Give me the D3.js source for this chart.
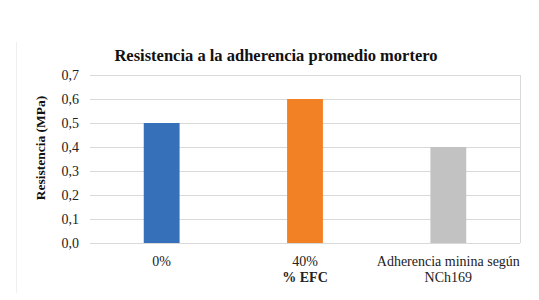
<!DOCTYPE html>
<html>
<head>
<meta charset="utf-8">
<script src="https://cdn.jsdelivr.net/npm/d3@7"></script>
<style>
  body { margin: 0; background: #fff; }
</style>
</head>
<body>
<svg id="chart" width="539" height="300"></svg>
<script>
// chart data
const categories = ["0%", "40%", "Adherencia minina según"];
const subLabels = ["", "% EFC", "NCh169"];
const values = [0.5, 0.6, 0.4];
const barColors = ["#3570b8", "#f28126", "#c2c2c2"];
const yTicks = [0, 0.1, 0.2, 0.3, 0.4, 0.5, 0.6, 0.7];
const title = "Resistencia a la adherencia promedio mortero";
const yLabel = "Resistencia (MPa)";

const serif = "'Liberation Serif', 'Times New Roman', Times, serif";

const svg = d3.select("#chart");

// plot area
const plot = { left: 90, right: 520, top: 75, bottom: 243 };

const x = d3.scaleBand()
    .domain(categories)
    .range([plot.left, plot.right])
    .padding(0);

const y = d3.scaleLinear()
    .domain([0, 0.7])
    .range([plot.bottom, plot.top]);

const barWidth = x.bandwidth() * 0.25;

// faint outer chart border (left edge only visible)
svg.append("line")
    .attr("x1", 16.5).attr("x2", 16.5)
    .attr("y1", 42).attr("y2", 293)
    .attr("stroke", "#efefef");

// gridlines
svg.append("g")
    .selectAll("line")
    .data(yTicks)
    .join("line")
    .attr("x1", plot.left)
    .attr("x2", plot.right)
    .attr("y1", d => Math.round(y(d)) + 0.5)
    .attr("y2", d => Math.round(y(d)) + 0.5)
    .attr("stroke", "#d9d9d9");

// right border of the plot area
svg.append("line")
    .attr("x1", plot.right + 0.5).attr("x2", plot.right + 0.5)
    .attr("y1", plot.top).attr("y2", plot.bottom)
    .attr("stroke", "#d9d9d9");

// y tick labels
svg.append("g")
    .selectAll("text")
    .data(yTicks)
    .join("text")
    .attr("x", 79)
    .attr("y", d => y(d) + 4.5)
    .attr("text-anchor", "end")
    .attr("font-family", serif)
    .attr("font-size", 14)
    .attr("fill", "#222")
    .text(d => d3.format(".1f")(d).replace(".", ","));

// bars
svg.append("g")
    .selectAll("rect")
    .data(values)
    .join("rect")
    .attr("x", (d, i) => x(categories[i]) + x.bandwidth() / 2 - barWidth / 2)
    .attr("y", d => y(d))
    .attr("width", barWidth)
    .attr("height", d => y(0) - y(d))
    .attr("fill", (d, i) => barColors[i]);

// x labels
const xl = svg.append("g");
xl.selectAll("text.main")
    .data(categories)
    .join("text")
    .attr("class", "main")
    .attr("x", d => x(d) + x.bandwidth() / 2)
    .attr("y", 266)
    .attr("text-anchor", "middle")
    .attr("font-family", serif)
    .attr("font-size", 14)
    .attr("fill", "#222")
    .text(d => d);

xl.selectAll("text.sub")
    .data(subLabels)
    .join("text")
    .attr("class", "sub")
    .attr("x", (d, i) => x(categories[i]) + x.bandwidth() / 2)
    .attr("y", 282)
    .attr("text-anchor", "middle")
    .attr("font-family", serif)
    .attr("font-size", 14)
    .attr("font-weight", (d, i) => i === 1 ? "bold" : "normal")
    .attr("fill", "#222")
    .text(d => d);

// title
svg.append("text")
    .attr("x", 276)
    .attr("y", 61)
    .attr("text-anchor", "middle")
    .attr("font-family", serif)
    .attr("font-size", 16.5)
    .attr("font-weight", "bold")
    .attr("fill", "#111")
    .text(title);

// y axis label
svg.append("text")
    .attr("transform", "translate(45,148) rotate(-90)")
    .attr("text-anchor", "middle")
    .attr("font-family", serif)
    .attr("font-size", 13.5)
    .attr("font-weight", "bold")
    .attr("fill", "#111")
    .text(yLabel);
</script>
</body>
</html>
